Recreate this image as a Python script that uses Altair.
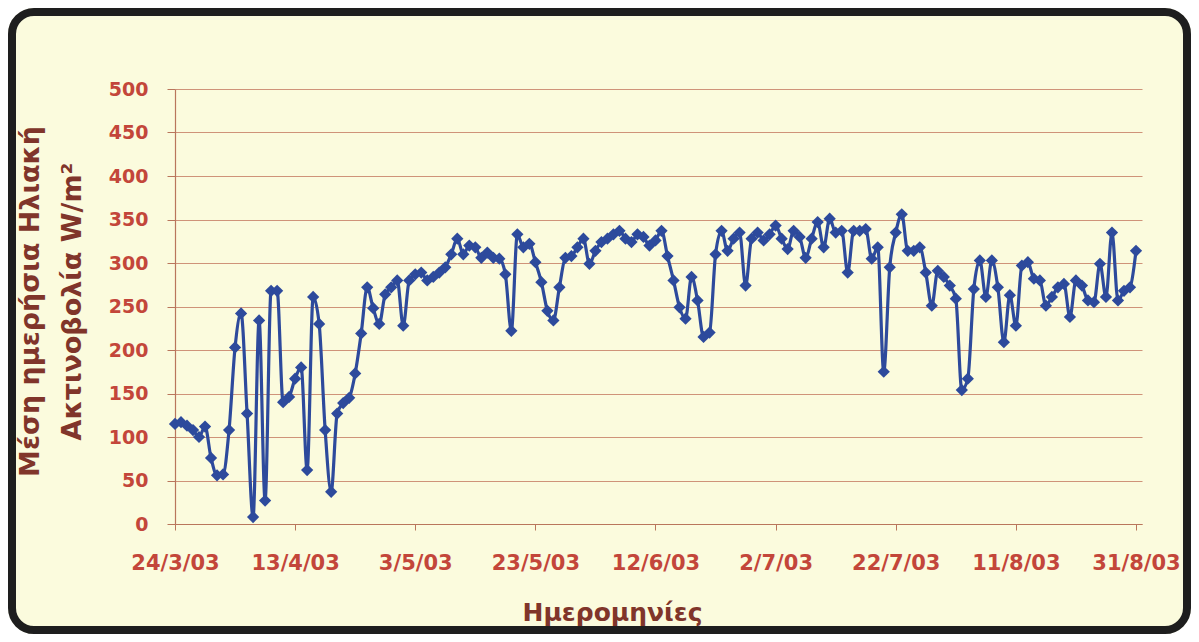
import json
import altair as alt
import pandas as pd

# daily mean solar radiation (W/m2), 24/3/03 .. 31/8/03 (161 days)
values = [115, 117, 113, 108, 100, 112, 76, 56, 57, 108,
          203, 242, 127, 8, 234, 27, 268, 268, 140, 146,
          167, 180, 62, 261, 230, 108, 37, 127, 139, 145,
          173, 219, 272, 248, 230, 264, 272, 280, 228, 280,
          287, 289, 280, 284, 289, 295, 310, 328, 310, 320,
          318, 306, 312, 306, 305, 287, 222, 333, 318, 322,
          301, 278, 245, 234, 272, 306, 308, 318, 328, 299,
          314, 324, 328, 333, 337, 328, 324, 333, 330, 320,
          326, 337, 308, 280, 249, 236, 284, 257, 215, 220,
          310, 337, 314, 328, 335, 274, 328, 335, 326, 333,
          343, 328, 316, 337, 330, 306, 328, 347, 318, 351,
          335, 337, 289, 337, 337, 339, 305, 318, 175, 295,
          335, 356, 314, 314, 318, 289, 251, 291, 284, 274,
          259, 154, 167, 270, 303, 261, 303, 272, 209, 263,
          228, 297, 301, 282, 280, 251, 261, 272, 276, 238,
          280, 274, 257, 255, 299, 261, 335, 257, 268, 272,
          314]
days = list(range(len(values)))

tick_days = [0, 20, 40, 60, 80, 100, 120, 140, 160]
tick_labels = ["24/3/03", "13/4/03", "3/5/03", "23/5/03", "12/6/03",
               "2/7/03", "22/7/03", "11/8/03", "31/8/03"]
y_ticks = [0, 50, 100, 150, 200, 250, 300, 350, 400, 450, 500]

x_title = "Ημερομηνίες"
y_title = ["Μέση ημερήσια Ηλιακή", "Ακτινοβολία W/m²"]

BLUE = "#2D4A9C"
BG = "#FBFBDD"
LABEL = "#C3463A"
TITLE = "#80352A"
GRID = "#CF9379"
AXIS = "#B9765C"

df = pd.DataFrame({"day": days, "value": values})

W, H = 967, 435
PAD = {"left": 167, "top": 81, "right": 49, "bottom": 110}

label_expr = json.dumps(tick_labels) + "[round(datum.value / 20)]"

x_enc = alt.X(
    "day:Q",
    scale=alt.Scale(domain=[0, 161], nice=False, zero=False),
    axis=alt.Axis(
        values=tick_days, labelExpr=label_expr, grid=False,
        labelOverlap=False, labelFlush=False,
        tickSize=6, labelPadding=22, labelFontSize=21,
        title=x_title, titleFontSize=25, titleX=437, titleY=96,
        titleAlign="center", titleBaseline="alphabetic",
    ),
)
y_enc = alt.Y(
    "value:Q",
    scale=alt.Scale(domain=[0, 500], nice=False),
    axis=alt.Axis(
        values=y_ticks, grid=True, tickSize=8, labelPadding=19,
        labelFontSize=19, labelOverlap=False, labelFlush=False,
        title=y_title, titleFontSize=27,
        titleLineHeight=42, titleAngle=270, titleX=-137, titleY=212,
        titleAlign="center", titleBaseline="alphabetic",
    ),
)

base = alt.Chart(df)
line = base.mark_line(color=BLUE, strokeWidth=3.2, interpolate="monotone").encode(
    x=x_enc, y=y_enc)
points = base.mark_point(shape="diamond", filled=True, size=150, color=BLUE,
                         opacity=1).encode(x="day:Q", y="value:Q")

one = alt.Chart(pd.DataFrame({"k": [0]}))
mask = one.mark_rect(stroke="white", strokeWidth=60, fillOpacity=0,
                     cornerRadius=56).encode(
    x=alt.value(-197), x2=alt.value(1046), y=alt.value(-111), y2=alt.value(575))
frame = one.mark_rect(stroke="#1E1E1E", strokeWidth=8, fillOpacity=0,
                      cornerRadius=22).encode(
    x=alt.value(-163), x2=alt.value(1012), y=alt.value(-77), y2=alt.value(541))

chart = alt.layer(line, points, mask, frame).properties(
    width=W, height=H, padding=PAD,
    autosize=alt.AutoSizeParams(type="none"),
).configure(background=BG).configure_view(strokeWidth=0).configure_axis(
    labelFont="DejaVu Sans", labelFontWeight="bold", labelColor=LABEL,
    titleFont="DejaVu Sans", titleFontWeight="bold", titleColor=TITLE,
    domainColor=AXIS, tickColor=AXIS, gridColor=GRID, gridWidth=1,
    domainWidth=1.2,
)

chart.save("out.html", embed_options={"renderer": "svg", "actions": False})
